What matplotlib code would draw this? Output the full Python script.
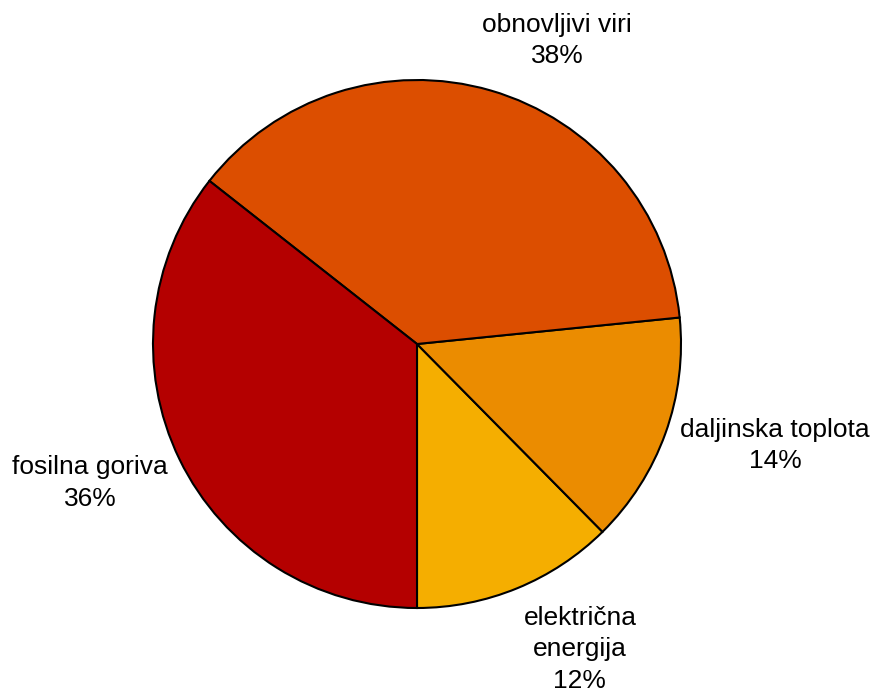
import matplotlib
matplotlib.use("Agg")
import matplotlib.pyplot as plt

categories = ["električna\nenergija", "daljinska toplota", "obnovljivi viri", "fosilna goriva"]
values = [12.4, 14.2, 37.8, 35.6]
colors = ["#F5AE00", "#EB8C00", "#DC4E00", "#B40000"]

plt.rcParams['font.family'] = ['Liberation Sans', 'DejaVu Sans']

W, H = 873, 694
fig = plt.figure(figsize=(W / 100, H / 100), dpi=100)
cx, cy, r = 417, 344, 264
ax = fig.add_axes([(cx - r) / W, (H - cy - r) / H, 2 * r / W, 2 * r / H])
ax.pie(values, colors=colors, startangle=270, counterclock=True,
       wedgeprops=dict(edgecolor="black", linewidth=1.5), radius=1)
ax.set_xlim(-1, 1)
ax.set_ylim(-1, 1)
ax.set_aspect("equal")
ax.axis("off")

label_pos = [(0.617, -1.156), (1.356, -0.385), (0.53, 1.15), (-1.239, -0.527)]
total = sum(values)
for cat, v, (x, y) in zip(categories, values, label_pos):
    ax.text(x, y, f"{cat}\n{round(v / total * 100):.0f}%", ha="center", va="center",
            fontsize=19, linespacing=1.4, clip_on=False)

fig.savefig("out.png", dpi=100)
